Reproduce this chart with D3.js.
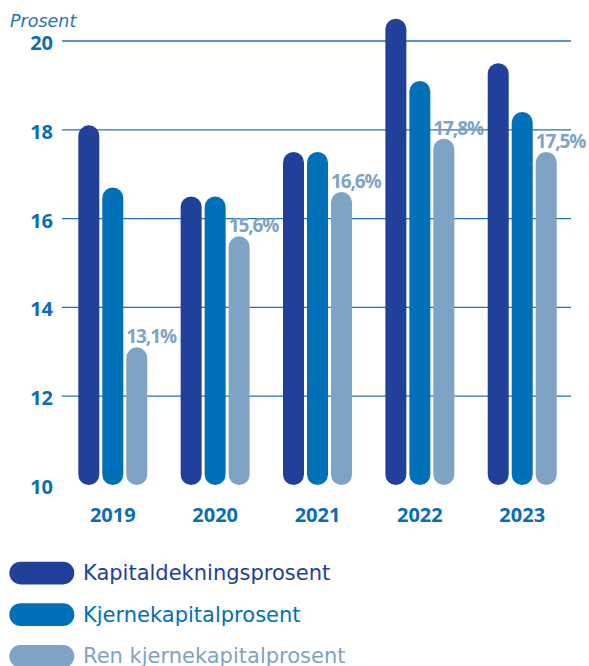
<!DOCTYPE html>
<html><head><meta charset="utf-8">
<script src="https://cdn.jsdelivr.net/npm/d3@7"></script>
<style>
html,body{margin:0;padding:0;background:#fff;}
svg{display:block;font-family:"Open Sans",sans-serif;}
</style></head>
<body>
<svg id="chart" width="589" height="666"></svg>
<script>
const years = ["2019","2020","2021","2022","2023"];
const seriesNames = ["Kapitaldekningsprosent","Kjernekapitalprosent","Ren kjernekapitalprosent"];
const kapitaldekning = [18.1,16.5,17.5,20.5,19.5];
const kjernekapital = [16.7,16.5,17.5,19.1,18.4];
const renKjernekapital = [13.1,15.6,16.6,17.8,17.5];
const valueLabels = ["13,1%","15,6%","16,6%","17,8%","17,5%"];
const yTicks = [10,12,14,16,18,20];
const colors = ["#21409a","#0070b8","#7fa3c5"];

const seriesValues = [kapitaldekning, kjernekapital, renKjernekapital];
const svg = d3.select("#chart");

const y = d3.scaleLinear().domain([10,20]).range([485,41]);
const x0 = d3.scaleBand().domain(years).range([78.3,556.7]).paddingInner(0.326).paddingOuter(0);
const x1 = d3.scaleBand().domain(seriesNames).range([0,x0.bandwidth()]).paddingInner(0.125).paddingOuter(0);
const bw = x1.bandwidth();

// gridlines
svg.append("g").selectAll("line").data(yTicks.filter(d=>d>10)).join("line")
  .attr("x1",62).attr("x2",571)
  .attr("y1",d=>y(d)).attr("y2",d=>y(d))
  .attr("stroke","#1f72b8").attr("stroke-width",1.3);

// y axis labels
const yAxis = d3.axisLeft(y).tickValues(yTicks).tickSize(0).tickPadding(0).tickFormat(d3.format("d"));
const ga = svg.append("g").attr("transform","translate(53,0)").call(yAxis);
ga.select(".domain").remove();
ga.selectAll("text").attr("fill","#0b6db6").attr("font-size","20px").attr("font-weight",700)
  .attr("dy","0.42em").attr("font-family","'Open Sans',sans-serif");

// Prosent
svg.append("text").attr("x",10).attr("y",27).text("Prosent")
  .attr("font-family","'DejaVu Sans',sans-serif")
  .attr("font-style","italic").attr("font-size","17.5px").attr("fill","#1f72b8");

// bars
const groups = svg.append("g").selectAll("g").data(years).join("g")
  .attr("transform",d=>`translate(${x0(d)},0)`);
groups.selectAll("rect").data((yr,i)=>seriesNames.map((s,j)=>({s,j,v:seriesValues[j][i]}))).join("rect")
  .attr("x",d=>x1(d.s)).attr("width",bw)
  .attr("y",d=>y(d.v)).attr("height",d=>y(10)-y(d.v))
  .attr("rx",bw/2).attr("ry",bw/2)
  .attr("fill",d=>colors[d.j]);

// value labels
groups.append("text")
  .attr("x",x1(seriesNames[2]))
  .attr("y",(d,i)=>y(renKjernekapital[i])-4)
  .text((d,i)=>valueLabels[i])
  .attr("fill","#7fa3c5").attr("font-size","19px").attr("font-weight",700).attr("letter-spacing","-1.1px");

// x axis labels
const xAxis = d3.axisBottom(x0).tickSize(0).tickPadding(0);
const gx = svg.append("g").attr("transform","translate(0,522)").call(xAxis);
gx.select(".domain").remove();
gx.selectAll("text").attr("dy",0).attr("fill","#0b6db6").attr("font-size","20px").attr("font-weight",700)
  .attr("font-family","'Open Sans',sans-serif");

// legend
const leg = svg.append("g").selectAll("g").data(seriesNames).join("g")
  .attr("transform",(d,i)=>`translate(0,${573+i*41.6})`);
leg.append("rect").attr("x",9.3).attr("y",-11.3).attr("width",65).attr("height",22.7)
  .attr("rx",11.3).attr("fill",(d,i)=>colors[i]);
leg.append("text").attr("x",83).attr("y",7).text(d=>d)
  .attr("font-family","'DejaVu Sans',sans-serif")
  .attr("fill",(d,i)=>colors[i]).attr("font-size","21px");
</script>
</body></html>
